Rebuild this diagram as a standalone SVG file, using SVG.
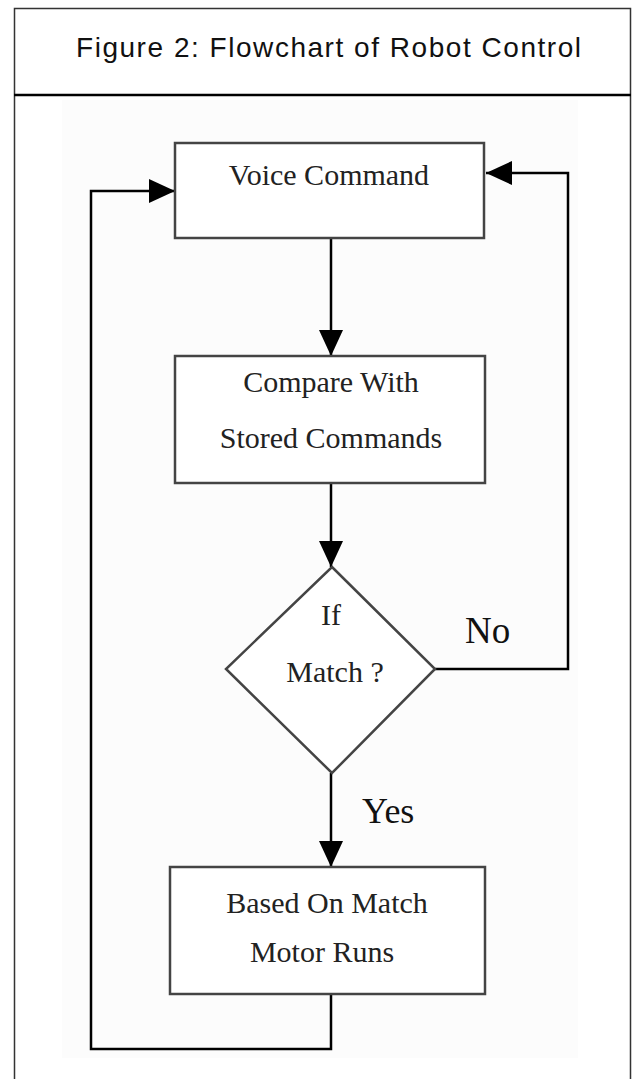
<svg xmlns="http://www.w3.org/2000/svg" width="633" height="1079" viewBox="0 0 633 1079">
<style>
.frame{fill:none;stroke:#333;stroke-width:1.5}
.box{fill:#fff;stroke:#444;stroke-width:2.5}
.conn{fill:none;stroke:#000;stroke-width:2.5}
.t{font-family:"Liberation Serif","Times New Roman",serif;font-size:30px;fill:#222;text-anchor:middle}
.lbl{font-family:"Liberation Serif","Times New Roman",serif;fill:#111}
.title{font-family:"Liberation Sans",Arial,sans-serif;font-size:28px;fill:#111}
</style>
<defs>
<marker id="ah" viewBox="0 0 26 24" refX="26" refY="12" markerWidth="26" markerHeight="24" markerUnits="userSpaceOnUse" orient="auto">
<path d="M0,0 L26,12 L0,24 Z" fill="#000"/>
</marker>
</defs>
<rect x="0" y="0" width="633" height="1079" fill="#fff"/>
<g id="frame">
<path class="frame" d="M14.5,1079 V8.5 H630.5 V1079"/>
<line x1="14" y1="95" x2="631" y2="95" stroke="#000" stroke-width="2.5"/>
<text class="title" x="76" y="57" textLength="505" lengthAdjust="spacing">Figure 2: Flowchart of Robot Control</text>
</g>
<rect x="62" y="100" width="516" height="958" fill="#fcfcfc"/>
<g id="connectors">
<line class="conn" x1="331" y1="238" x2="331" y2="356" marker-end="url(#ah)"/>
<line class="conn" x1="331" y1="483" x2="331" y2="567" marker-end="url(#ah)"/>
<line class="conn" x1="331" y1="773" x2="331" y2="867" marker-end="url(#ah)"/>
<polyline class="conn" points="435,669 568,669 568,173 486,173" marker-end="url(#ah)"/>
<polyline class="conn" points="331,994 331,1049 91,1049 91,191 175,191" marker-end="url(#ah)"/>
</g>
<g id="voice">
<rect class="box" x="175" y="143" width="309" height="95"/>
<text class="t" x="329" y="185">Voice Command</text>
</g>
<g id="compare">
<rect class="box" x="175" y="356" width="310" height="127"/>
<text class="t" x="331" y="392">Compare With</text>
<text class="t" x="331" y="448">Stored Commands</text>
</g>
<g id="decision">
<polygon class="box" points="332,567 435,669 332,773 226,669"/>
<text class="t" x="331" y="625">If</text>
<text class="t" x="335" y="682">Match ?</text>
</g>
<g id="motor">
<rect class="box" x="170" y="867" width="315" height="127"/>
<text class="t" x="327" y="913">Based On Match</text>
<text class="t" x="322" y="962">Motor Runs</text>
</g>
<g id="labels">
<text class="lbl" x="465" y="643" font-size="37">No</text>
<text class="lbl" x="362" y="823" font-size="36">Yes</text>
</g>
</svg>
